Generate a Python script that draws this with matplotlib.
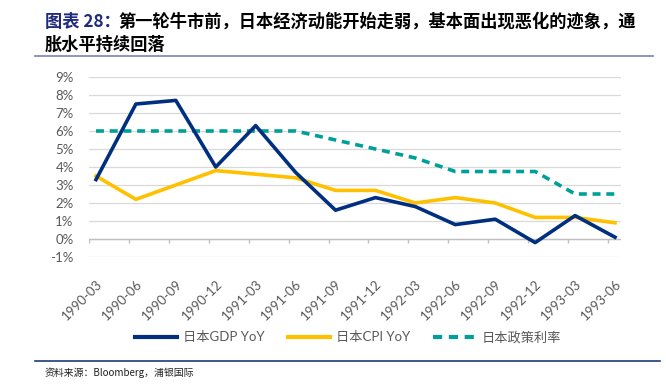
import numpy as np
import matplotlib
matplotlib.use('Agg')
import matplotlib.pyplot as plt
from matplotlib.lines import Line2D

plt.rcParams['font.family'] = ['Lato', 'Noto Sans CJK SC', 'DejaVu Sans']

# Data
quarters = ['1990-03', '1990-06', '1990-09', '1990-12', '1991-03', '1991-06', '1991-09',
            '1991-12', '1992-03', '1992-06', '1992-09', '1992-12', '1993-03', '1993-06']
gdp_yoy = [3.3, 7.5, 7.7, 4.0, 6.3, 3.7, 1.6, 2.3, 1.8, 0.8, 1.1, -0.2, 1.3, 0.1]
cpi_yoy = [3.5, 2.2, 3.0, 3.8, 3.6, 3.4, 2.7, 2.7, 2.0, 2.3, 2.0, 1.2, 1.2, 0.9]
policy_rate = [6.0, 6.0, 6.0, 6.0, 6.0, 6.0, 5.5, 5.0, 4.5, 3.75, 3.75, 3.75, 2.5, 2.5]

navy = '#002F80'
gold = '#FFC000'
teal = '#00A09A'
gray_txt = '#595959'

fig = plt.figure(figsize=(6.66, 3.89), dpi=100)
ax = fig.add_axes([89 / 666, 1 - 257 / 389, (621 - 89) / 666, (257 - 77) / 389])

x = np.arange(len(quarters))
ax.plot(x, gdp_yoy, color=navy, lw=2.6, zorder=4, label='日本GDP YoY')
ax.plot(x, cpi_yoy, color=gold, lw=2.6, zorder=3, label='日本CPI YoY')
ax.plot(x, policy_rate, color=teal, lw=2.6, ls=(0, (2.2, 1.6)), zorder=3, label='日本政策利率')

ax.set_xlim(-0.175, 13.15)
ax.set_ylim(-1, 9)
ax.set_yticks(range(-1, 10))
ax.set_yticklabels([f'{v}%' for v in range(-1, 10)])
ax.grid(axis='y', color='#D9D9D9', lw=0.9)
ax.set_axisbelow(True)

# zero axis line with small ticks between categories
ax.axhline(0, color='#BFBFBF', lw=1, zorder=2)
ax.vlines(x - 0.175, -0.22, 0, color='#BFBFBF', lw=1, zorder=2)

ax.set_xticks(x)
ax.set_xticklabels(quarters, rotation=45, ha='right', rotation_mode='anchor')
ax.tick_params(axis='x', length=0, pad=15, labelsize=9.5, labelcolor=gray_txt)
ax.tick_params(axis='y', length=0, pad=11, labelsize=9.5, labelcolor=gray_txt)
for s in ax.spines.values():
    s.set_visible(False)

handles = [Line2D([], [], color=navy, lw=3),
           Line2D([], [], color=gold, lw=3),
           Line2D([], [], color=teal, lw=3, ls=(0, (2.2, 1.6)))]
leg = fig.legend(handles, ['日本GDP YoY', '日本CPI YoY', '日本政策利率'],
                 loc='center', bbox_to_anchor=(348 / 666, 1 - 337 / 389), ncol=3,
                 frameon=False, fontsize=9.5, handlelength=3.2, handletextpad=0.5,
                 columnspacing=1.7, labelcolor=gray_txt)

# title
tfont = dict(fontsize=12.4, fontweight='bold', va='center', family=['Noto Sans CJK SC'])
t1 = fig.text(45 / 666, 1 - 22 / 389, '图表 28：', color='#1F2A7A', **tfont)
fig.canvas.draw()
bb = t1.get_window_extent()
fig.text(bb.x1 / 666 - 0.004, 1 - 22 / 389,
         '第一轮牛市前，日本经济动能开始走弱，基本面出现恶化的迹象，通', color='black', **tfont)
fig.text(45 / 666, 1 - 45 / 389, '胀水平持续回落', color='black', **tfont)
fig.add_artist(Line2D([35 / 666, 653 / 666], [1 - 56 / 389] * 2, color='#8080B8', lw=1.2))

# footer
fig.add_artist(Line2D([35 / 666, 660 / 666], [1 - 361 / 389] * 2, color='#1F3A7A', lw=1.2))
fig.text(45 / 666, 1 - 373 / 389, '资料来源：Bloomberg，浦银国际', fontsize=7.1, va='center',
         color='#222222', family=['Noto Sans CJK SC'])

fig.savefig('out.png', dpi=100)
